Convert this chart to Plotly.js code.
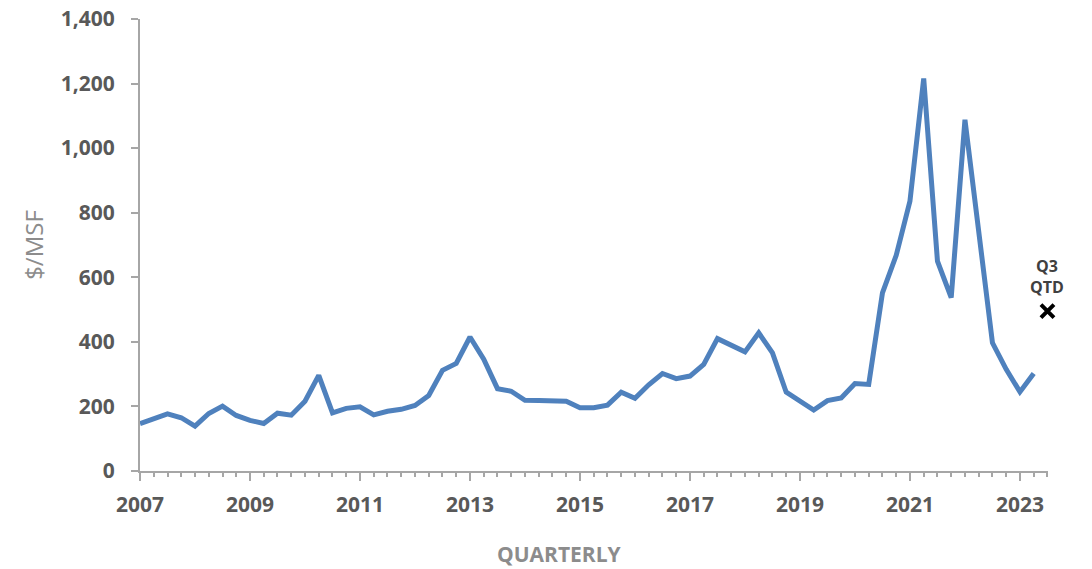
<!DOCTYPE html>
<html>
<head>
<meta charset="utf-8">
<script src="https://cdn.plot.ly/plotly-3.0.1.min.js"></script>
<style>html,body{margin:0;padding:0;background:#fff;}#chart{width:1092px;height:569px;}</style>
</head>
<body>
<div id="chart"></div>
<script>
// Quarterly values, $/MSF, from 2007 Q1 to 2023 Q2
const startYear = 2007;
const values = [
  147, 160, 177, 165, 139, 178, 201, 172, 157, 147,
  179, 173, 216, 296, 180, 194, 199, 174, 185, 191,
  203, 234, 312, 333, 415, 346, 255, 247, 219, 218,
  217, 216, 196, 196, 204, 244, 225, 267, 302, 286,
  294, 330, 410, 389, 369, 428, 366, 244, 216, 189,
  218, 226, 271, 268, 552, 668, 836, 1216, 650, 537,
  1088, 730, 397, 315, 245, 302
];
// Q3 quarter-to-date point
const qtdPeriod = [2023.5];
const qtdValue = [495];
const qtdLabel = "Q3<br>QTD";
const xTickVals = [2007, 2009, 2011, 2013, 2015, 2017, 2019, 2021, 2023];
const xTickText = ["2007", "2009", "2011", "2013", "2015", "2017", "2019", "2021", "2023"];
const yTickVals = [0, 200, 400, 600, 800, 1000, 1200, 1400];

const xs = values.map((v, i) => startYear + i / 4);

const axisGray = '#a6a6a6';
const labelGray = '#595959';

const traces = [
  {
    x: xs, y: values, type: 'scatter', mode: 'lines',
    line: {color: '#4f81bd', width: 5},
    hoverinfo: 'x+y', cliponaxis: false
  },
  {
    x: qtdPeriod, y: qtdValue, type: 'scatter', mode: 'markers',
    marker: {symbol: 'x-thin', size: 13, color: '#000', line: {color: '#000', width: 4}},
    cliponaxis: false
  }
];

const layout = {
  width: 1092, height: 569,
  margin: {l: 140, r: 44, t: 19, b: 98},
  paper_bgcolor: '#fff', plot_bgcolor: '#fff',
  showlegend: false,
  font: {family: '"Open Sans", sans-serif', color: labelGray},
  xaxis: {
    range: [2007, 2023.51],
    tickvals: xTickVals, ticktext: xTickText,
    showgrid: false, zeroline: false,
    showline: true, linecolor: axisGray, linewidth: 2,
    ticks: 'outside', ticklen: 8, tickwidth: 2, tickcolor: axisGray,
    minor: {dtick: 0.25, tick0: 2007, ticks: 'outside', ticklen: 4, tickwidth: 2, tickcolor: axisGray},
    tickfont: {size: 21, color: labelGray, weight: 'bold'},
    ticklabelstandoff: 6
  },
  yaxis: {
    range: [0, 1400],
    tickvals: yTickVals, tickformat: ',',
    showgrid: false, zeroline: false,
    showline: true, linecolor: axisGray, linewidth: 2,
    ticks: 'outside', ticklen: 7, tickwidth: 2, tickcolor: axisGray,
    tickfont: {size: 21, color: labelGray, weight: 'bold'},
    ticklabelstandoff: 12
  },
  annotations: [
    {
      text: 'QUARTERLY', xref: 'paper', yref: 'paper',
      x: 0.4615, y: -0.183, xanchor: 'center', yanchor: 'middle',
      showarrow: false, font: {size: 21, color: '#8c8c8c', weight: 'bold'}
    },
    {
      text: '$/MSF', xref: 'paper', yref: 'paper',
      x: -0.118, y: 0.5, xanchor: 'center', yanchor: 'middle', textangle: -90,
      showarrow: false, font: {size: 24, color: '#8c8c8c'}
    },
    {
      text: qtdLabel, x: qtdPeriod[0], y: qtdValue[0], xref: 'x', yref: 'y',
      xanchor: 'center', yanchor: 'bottom', yshift: 11,
      showarrow: false, font: {size: 16, color: '#404040', weight: 'bold'}
    }
  ]
};

Plotly.newPlot('chart', traces, layout, {displayModeBar: false, staticPlot: true});
</script>
</body>
</html>
